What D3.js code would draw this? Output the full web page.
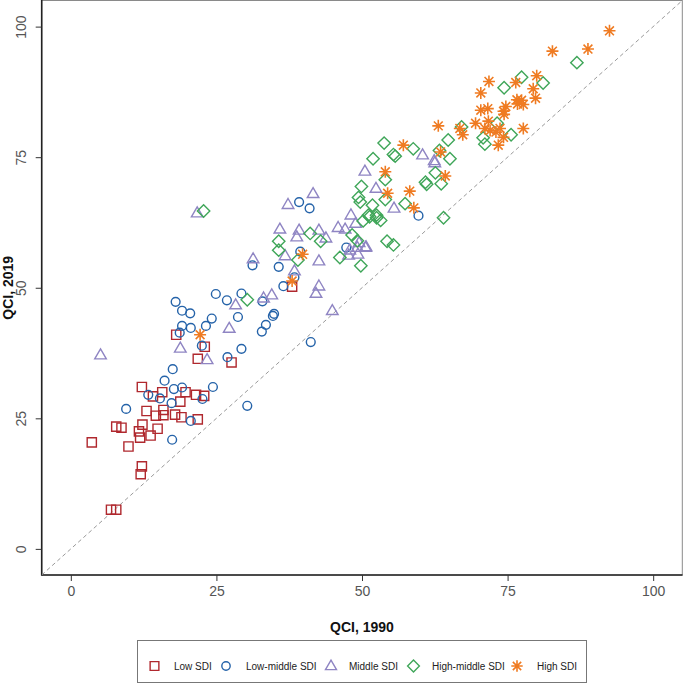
<!DOCTYPE html>
<html><head><meta charset="utf-8">
<script src="https://cdn.jsdelivr.net/npm/d3@7"></script>
<style>body{margin:0;background:#fff}svg{display:block}text{font-family:"Liberation Sans",Arial,sans-serif}</style>
</head><body><svg id="c" width="685" height="686"></svg>
<script>
const tickValues = [0, 25, 50, 75, 100];
const seriesNames = ["Low SDI", "Low-middle SDI", "Middle SDI", "High-middle SDI", "High SDI"];
const lowSDI = [[23.0,38.7],[21.8,36.4],[27.6,35.7],[12.2,31.0],[14.1,29.2],[15.7,30.0],[19.7,30.0],[21.5,29.5],[22.9,29.3],[18.8,28.2],[13.0,26.4],[15.9,26.6],[14.6,25.5],[15.9,25.6],[17.9,25.7],[19.0,25.2],[21.8,24.8],[7.8,23.4],[8.7,23.2],[12.3,23.8],[14.9,23.0],[11.7,22.5],[11.9,21.3],[13.7,21.7],[3.6,20.4],[9.9,19.6],[12.2,15.8],[12.0,14.3],[6.9,7.5],[7.8,7.5],[18.1,41.0],[38.0,50.2]];
const lowMiddleSDI = [[22.5,38.9],[29.3,38.3],[26.9,36.7],[17.5,34.4],[16.1,32.2],[24.4,31.0],[13.3,29.5],[15.3,28.8],[17.7,30.6],[19.1,30.9],[17.3,27.9],[22.6,28.7],[9.5,26.8],[20.6,24.5],[30.3,27.4],[17.4,20.9],[39.2,66.4],[41.0,65.2],[47.3,57.7],[39.4,56.9],[31.2,54.3],[35.7,54.0],[38.4,52.0],[36.5,50.3],[41.2,39.6],[24.9,48.8],[26.8,47.6],[29.3,48.9],[18.0,47.3],[19.1,45.6],[20.5,45.1],[24.2,44.1],[28.7,44.4],[32.9,47.4],[34.9,45.0],[34.7,44.6],[33.5,42.9],[32.8,41.6],[19.1,42.7],[20.6,42.3],[23.2,42.7],[18.7,41.4],[59.7,63.8]];
const middleSDI = [[5.1,37.1],[18.8,38.4],[23.4,36.2],[21.7,64.3],[50.5,72.3],[52.4,69.0],[41.6,68.0],[37.3,65.9],[48.1,63.9],[48.9,62.3],[45.9,61.5],[47.1,61.2],[49.5,58.6],[50.6,57.7],[49.2,57.7],[47.9,57.2],[49.3,56.4],[47.7,56.2],[35.9,61.2],[39.2,61.0],[38.8,59.7],[42.6,61.0],[43.8,59.5],[36.8,56.1],[42.6,55.1],[31.3,55.5],[38.4,53.2],[42.6,50.3],[42.1,48.9],[44.9,45.6],[33.1,48.0],[34.5,48.6],[28.3,46.7],[27.2,42.2],[55.5,65.2],[60.4,75.4],[62.4,74.3],[62.5,73.9],[50.7,57.8]];
const highMiddleSDI = [[22.8,64.7],[49.9,69.4],[49.4,67.3],[49.7,66.4],[51.8,65.8],[50.2,62.8],[51.3,63.6],[52.5,63.4],[48.3,60.1],[49.2,59.0],[46.2,55.8],[49.8,54.2],[41.1,60.4],[42.9,58.9],[35.7,58.9],[35.7,57.2],[39.0,55.3],[30.3,47.7],[53.8,77.7],[58.8,76.6],[55.4,75.5],[55.7,75.2],[63.3,76.3],[65.1,74.7],[62.6,72.0],[60.9,70.2],[61.1,69.8],[63.6,69.9],[51.9,74.7],[54.0,70.7],[54.0,66.9],[57.4,66.1],[51.1,63.9],[52.5,63.9],[53.2,62.9],[64.0,63.4],[54.3,58.9],[55.4,58.2],[86.9,93.1],[77.4,90.3],[74.4,88.3],[81.1,89.2],[67.1,80.8],[73.2,81.5],[64.8,78.3],[70.8,78.7],[71.1,77.5],[75.6,79.3]];
const highSDI = [[92.5,99.2],[82.7,95.3],[88.8,95.7],[71.8,89.5],[80.0,90.6],[76.4,89.3],[70.4,87.3],[79.4,88.1],[79.8,86.3],[76.6,86.0],[77.4,85.9],[77.7,85.1],[76.7,85.2],[74.7,84.7],[74.3,83.8],[74.4,83.2],[70.4,84.0],[71.6,84.3],[63.1,81.0],[69.5,81.5],[71.7,81.9],[66.8,80.5],[67.3,79.3],[71.1,80.5],[72.0,80.1],[73.0,79.8],[73.7,80.5],[74.3,78.8],[73.4,77.3],[77.7,80.5],[63.5,76.0],[64.3,71.4],[57.1,77.3],[54.0,72.2],[54.4,68.1],[58.2,68.5],[58.9,65.3],[39.8,56.4],[38.0,51.3],[22.2,41.0]];

const seriesData = [lowSDI, lowMiddleSDI, middleSDI, highMiddleSDI, highSDI];
const colors = ["#b0282e", "#2563a9", "#8f85c3", "#3fa659", "#ef7b22"];
const shapes = ["square", "circle", "triangle", "diamond", "asterisk"];

const svg = d3.select("#c");
const x = d3.scaleLinear().domain([-5, 105]).range([41.7, 682.3]);
const y = d3.scaleLinear().domain([-5, 105]).range([575, 0.5]);

function shapePath(s, k) {
  k = k || 1;
  const p = d3.path();
  if (s === "square") { p.rect(-4.6 * k, -4.6 * k, 9.2 * k, 9.2 * k); }
  else if (s === "circle") { p.arc(0, 0, 4.4 * k, 0, 2 * Math.PI); p.closePath(); }
  else if (s === "triangle") { p.moveTo(0, -6.2 * k); p.lineTo(5.8 * k, 3.8 * k); p.lineTo(-5.8 * k, 3.8 * k); p.closePath(); }
  else if (s === "diamond") { p.moveTo(0, -6.2 * k); p.lineTo(6.2 * k, 0); p.lineTo(0, 6.2 * k); p.lineTo(-6.2 * k, 0); p.closePath(); }
  else if (s === "asterisk") {
    const r = 6 * k, d = 4.4 * k;
    p.moveTo(-r, 0); p.lineTo(r, 0); p.moveTo(0, -r); p.lineTo(0, r);
    p.moveTo(-d, -d); p.lineTo(d, d); p.moveTo(-d, d); p.lineTo(d, -d);
  }
  return p.toString();
}

// plot border
svg.append("rect").attr("x", 41.7).attr("y", 0.5).attr("width", 640.6).attr("height", 574.5)
  .attr("fill", "none").attr("stroke", "#8a8a8a").attr("stroke-width", 1);
svg.append("line").attr("x1", 41.7).attr("x2", 41.7).attr("y1", 0).attr("y2", 575.5).attr("stroke", "#222").attr("stroke-width", 1.6);
svg.append("line").attr("x1", 41).attr("x2", 682.5).attr("y1", 575).attr("y2", 575).attr("stroke", "#222").attr("stroke-width", 1.6);

// diagonal reference line
svg.append("line").attr("x1", x(-5)).attr("y1", y(-5)).attr("x2", x(105)).attr("y2", y(105))
  .attr("stroke", "#9a9a9a").attr("stroke-width", 1).attr("stroke-dasharray", "4,3");

// axes
const xAxis = d3.axisBottom(x).tickValues(tickValues).tickSize(6).tickPadding(5);
const gx = svg.append("g").attr("transform", "translate(0,575)").call(xAxis);
gx.select(".domain").remove();
gx.selectAll(".tick line").attr("stroke", "#333");
gx.selectAll(".tick text").attr("font-size", 14).attr("fill", "#555").attr("font-family", "Liberation Sans, Arial, sans-serif");

const yAxis = d3.axisLeft(y).tickValues(tickValues).tickSize(6).tickPadding(4);
const gy = svg.append("g").attr("transform", "translate(41.7,0)").call(yAxis);
gy.select(".domain").remove();
gy.selectAll(".tick line").attr("stroke", "#333");
gy.selectAll(".tick text").attr("font-size", 14).attr("fill", "#555").attr("font-family", "Liberation Sans, Arial, sans-serif")
  .attr("text-anchor", "middle").attr("dy", null).attr("x", null)
  .attr("transform", "translate(-16,0) rotate(-90)").attr("y", 0);

// axis titles
svg.append("text").attr("x", x(50)).attr("y", 632).attr("text-anchor", "middle")
  .attr("font-size", 14).attr("font-weight", "bold").attr("fill", "#111").text("QCI, 1990");
svg.append("text").attr("transform", `translate(13,${y(50)}) rotate(-90)`).attr("text-anchor", "middle")
  .attr("font-size", 14).attr("font-weight", "bold").attr("fill", "#111").text("QCI, 2019");

// points
seriesData.forEach((data, i) => {
  svg.append("g").selectAll("path").data(data).join("path")
    .attr("transform", d => `translate(${x(d[0])},${y(d[1])})`)
    .attr("d", shapePath(shapes[i]))
    .attr("fill", "none").attr("stroke", colors[i])
    .attr("stroke-width", shapes[i] === "asterisk" ? 1.6 : 1.4);
});

// legend
const lg = svg.append("g");
lg.append("rect").attr("x", 137.5).attr("y", 640.5).attr("width", 449).attr("height", 42)
  .attr("fill", "#fff").attr("stroke", "#777").attr("stroke-width", 1);
const legendX = [154.5, 226, 331, 413.5, 517];
const legendTX = [174, 246, 349, 432, 537];
seriesNames.forEach((n, i) => {
  lg.append("path").attr("transform", `translate(${legendX[i]},666)`).attr("d", shapePath(shapes[i], 0.95))
    .attr("fill", "none").attr("stroke", colors[i]).attr("stroke-width", shapes[i] === "asterisk" ? 1.6 : 1.4);
  lg.append("text").attr("x", legendTX[i]).attr("y", 669.5).attr("font-size", 10).attr("fill", "#222").text(n);
});
</script></body></html>
